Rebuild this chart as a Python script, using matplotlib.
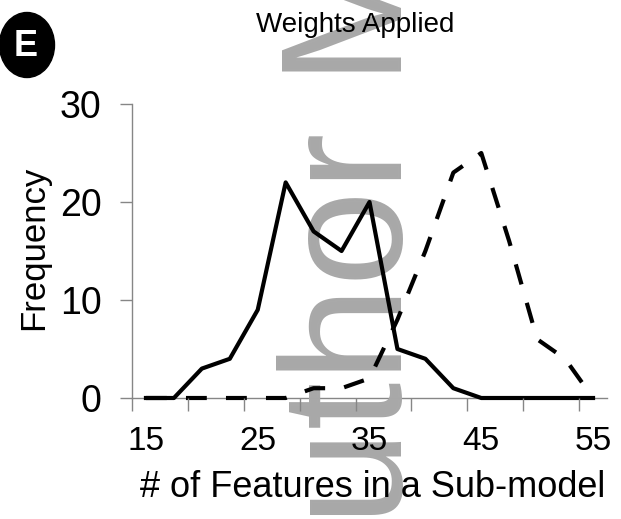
import numpy as np
import matplotlib
matplotlib.use("Agg")
import matplotlib.pyplot as plt
from matplotlib.patches import Ellipse

plt.rcParams['font.family'] = ['Liberation Sans', 'DejaVu Sans']

# feature-count bins and how many sub-models fell in each
n_features = [15, 17.5, 20, 22.5, 25, 27.5, 30, 32.5, 35, 37.5, 40, 42.5, 45, 47.5, 50, 52.5, 55]
freq_solid = [0, 0, 3, 4, 9, 22, 17, 15, 20, 5, 4, 1, 0, 0, 0, 0, 0]
freq_dashed = [0, 0, 0, 0, 0, 0, 1, 1, 2, 8, 15, 23, 25, 16, 6, 4, 0]

x_labels = [15, 25, 35, 45, 55]
y_ticks = [0, 10, 20, 30]

W, H = 621, 519
fig = plt.figure(figsize=(W / 100, H / 100), dpi=100)
ax = fig.add_axes([132 / W, (H - 398) / H, (607 - 132) / W, (398 - 104) / H])

ax.plot(n_features, freq_solid, color='black', lw=3.0, clip_on=False, zorder=4)
ax.plot(n_features, freq_dashed, color='black', lw=3.0, dashes=(5.0, 4.6),
        clip_on=False, zorder=4)

ax.set_xlim(13.75, 56.25)
ax.set_ylim(0, 30)

# tick marks sit between the bins, labels sit on the bins
ax.set_xticks(np.arange(13.75, 56, 5))
ax.set_xticklabels([])
ax.set_xticks(x_labels, minor=True)
ax.set_xticklabels([str(v) for v in x_labels], minor=True, fontsize=24)
ax.tick_params(axis='x', which='major', direction='out', length=9, width=1, color='#868686')
ax.tick_params(axis='x', which='minor', length=0, pad=20)

ax.set_yticks(y_ticks)
ax.set_yticklabels([str(v) for v in y_ticks], fontsize=27)
ax.tick_params(axis='y', direction='out', length=9, width=1, color='#868686', pad=13)

for s in ['top', 'right']:
    ax.spines[s].set_visible(False)
for s in ['left', 'bottom']:
    ax.spines[s].set_color('#868686')
    ax.spines[s].set_linewidth(1.0)

ax.xaxis.set_zorder(5)
ax.yaxis.set_zorder(5)

# grey manuscript stamp running up the page
ax.text(402 / W, (H - 640) / H, 'Author Manuscript', transform=fig.transFigure,
        rotation=90, rotation_mode='anchor', ha='left', va='baseline',
        fontsize=124, color='#a8a8a8', clip_on=False, zorder=3)

fig.text(355 / W, (H - 32) / H, 'Weights Applied', ha='center', va='baseline', fontsize=20)
fig.text(373 / W, (H - 497) / H, '# of Features in a Sub-model', ha='center',
         va='baseline', fontsize=26)
fig.text(43 / W, (H - 248) / H, 'Frequency', rotation=90, rotation_mode='anchor',
         ha='center', va='baseline', fontsize=25)

# panel badge
fig.add_artist(Ellipse((27 / W, (H - 45) / H), 55 / W, 65 / H, color='black',
                       transform=fig.transFigure))
fig.text(26 / W, (H - 46) / H, 'E', ha='center', va='center', color='white',
         fontsize=26, fontweight='bold')

fig.savefig('out.png', dpi=100)
